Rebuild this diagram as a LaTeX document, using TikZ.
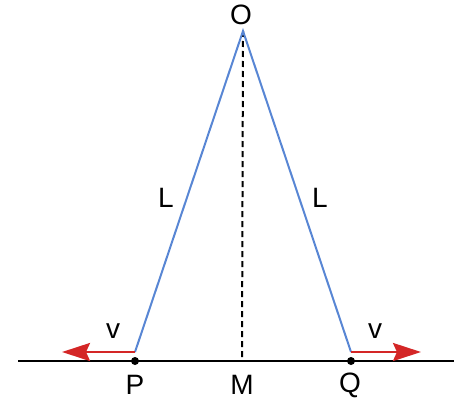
\documentclass[tikz,border=0pt]{standalone}
\usepackage{fontspec}
\setmainfont{Liberation Sans}
\usetikzlibrary{arrows.meta}
\definecolor{rodblue}{RGB}{88,134,212}
\definecolor{velred}{RGB}{212,38,38}
\tikzset{
  rod/.style={rodblue, line width=1pt},
  vel/.style={velred, line width=1.3pt, -{Stealth[length=14pt,width=9pt,inset=2pt]}},
  lbl/.style={font=\fontsize{14}{16}\selectfont, inner sep=0pt}
}
\begin{document}
\begin{tikzpicture}[x=0.5pt,y=-0.5pt]
\useasboundingbox (0,0) rectangle (458,401);

% Points
\coordinate (O) at (243,31);
\coordinate (M) at (242,361);
\coordinate (P) at (135,361);
\coordinate (Q) at (351,361);
\coordinate (Pv) at (135,352);
\coordinate (Qv) at (351,352);
\coordinate (left) at (18,361);
\coordinate (right) at (454,361);
\coordinate (Pend) at (62,352);
\coordinate (Qend) at (421,352);

% Ground line
\draw[line width=1.2pt] (left) -- (right);

% Dashed height OM
\draw[line width=1pt, dash pattern=on 3pt off 2pt] (O) -- (M);

% Rods
\draw[rod] (Pv) -- (O) -- (Qv);

% Velocities
\draw[vel] (Pv) -- (Pend);
\draw[vel] (Qv) -- (Qend);

% Dots
\fill (P) circle (2pt);
\fill (Q) circle (2pt);

% Labels
\node[lbl] (lO) at (241,15) {O};
\node[lbl] (lL1) at (166,198) {L};
\node[lbl] (lL2) at (320,198) {L};
\node[lbl] (lv1) at (113,331) {v};
\node[lbl] (lv2) at (375,331) {v};
\node[lbl] (lP) at (135,385) {P};
\node[lbl] (lM) at (242,385) {M};
\node[lbl] (lQ) at (350,385) {Q};
\end{tikzpicture}
\end{document}
